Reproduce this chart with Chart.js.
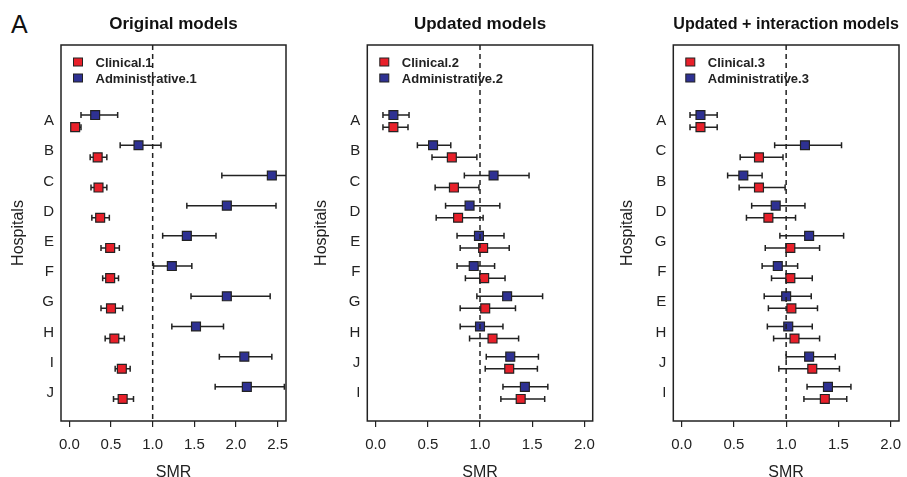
<!DOCTYPE html>
<html>
<head>
<meta charset="utf-8">
<script src="https://cdn.jsdelivr.net/npm/chart.js@4.4.1/dist/chart.umd.min.js"></script>
<style>
  body { margin: 0; background: #fff; width: 907px; height: 477px; overflow: hidden; position: relative; font-family: "Liberation Sans", Arial, sans-serif; }
  canvas { position: absolute; top: 0; }
  #tag { position: absolute; left: 11px; top: 12px; font-size: 25px; line-height: 25px; color: #111; }
</style>
</head>
<body>
<div id="tag">A</div>
<canvas id="p1" width="300" height="477" style="left:0px"></canvas>
<canvas id="p2" width="305" height="477" style="left:300px"></canvas>
<canvas id="p3" width="302" height="477" style="left:605px"></canvas>
<script>
// panel 1 - original models
var hosp1 = ["A", "B", "C", "D", "E", "F", "G", "H", "I", "J"];
var clin1 = [0.07, 0.34, 0.35, 0.37, 0.49, 0.49, 0.50, 0.54, 0.63, 0.64];
var clin1Lo = [0.03, 0.25, 0.26, 0.27, 0.38, 0.40, 0.38, 0.43, 0.55, 0.53];
var clin1Hi = [0.14, 0.45, 0.45, 0.48, 0.60, 0.59, 0.64, 0.66, 0.73, 0.77];
var adm1 = [0.31, 0.83, 2.43, 1.89, 1.41, 1.23, 1.89, 1.52, 2.10, 2.13];
var adm1Lo = [0.14, 0.61, 1.83, 1.41, 1.12, 1.01, 1.46, 1.23, 1.80, 1.75];
var adm1Hi = [0.58, 1.10, 2.75, 2.48, 1.76, 1.47, 2.41, 1.85, 2.43, 2.58];

// panel 2 - updated models
var hosp2 = ["A", "B", "C", "D", "E", "F", "G", "H", "J", "I"];
var clin2 = [0.17, 0.73, 0.75, 0.79, 1.03, 1.04, 1.05, 1.12, 1.28, 1.39];
var clin2Lo = [0.07, 0.54, 0.57, 0.58, 0.81, 0.86, 0.81, 0.90, 1.05, 1.20];
var clin2Hi = [0.31, 0.97, 0.99, 1.03, 1.28, 1.24, 1.34, 1.37, 1.55, 1.62];
var adm2 = [0.17, 0.55, 1.13, 0.90, 0.99, 0.94, 1.26, 1.00, 1.29, 1.43];
var adm2Lo = [0.07, 0.40, 0.85, 0.67, 0.78, 0.78, 0.97, 0.81, 1.06, 1.22];
var adm2Hi = [0.32, 0.72, 1.47, 1.19, 1.23, 1.14, 1.60, 1.22, 1.56, 1.65];

// panel 3 - updated + interaction models
var hosp3 = ["A", "C", "B", "D", "G", "F", "E", "H", "J", "I"];
var clin3 = [0.18, 0.74, 0.74, 0.83, 1.04, 1.04, 1.05, 1.08, 1.25, 1.37];
var clin3Lo = [0.08, 0.56, 0.55, 0.62, 0.80, 0.86, 0.83, 0.88, 0.93, 1.17];
var clin3Hi = [0.34, 0.97, 0.99, 1.09, 1.32, 1.25, 1.30, 1.32, 1.51, 1.58];
var adm3 = [0.18, 1.18, 0.59, 0.90, 1.22, 0.92, 1.00, 1.02, 1.22, 1.40];
var adm3Lo = [0.08, 0.89, 0.44, 0.67, 0.94, 0.77, 0.79, 0.82, 1.00, 1.20];
var adm3Hi = [0.34, 1.53, 0.77, 1.18, 1.55, 1.11, 1.24, 1.25, 1.47, 1.62];

var ticks1 = [0, 0.5, 1, 1.5, 2, 2.5];
var ticks2 = [0, 0.5, 1, 1.5, 2];

var RED = "#e8202a";
var BLUE = "#2e3192";
var INK = "#222";
var FONT = "'Liberation Sans', Arial, sans-serif";

// error bars, reference line, frame and legend
var forestPlugin = {
    id: "forest",
    beforeDatasetsDraw: function (chart) {
        var ctx = chart.ctx, a = chart.chartArea;
        var x = chart.scales.x, y = chart.scales.y;
        ctx.save();
        ctx.beginPath();
        ctx.rect(a.left, a.top, a.width, a.height);
        ctx.clip();
        ctx.strokeStyle = INK;
        ctx.lineWidth = 1.5;
        chart.data.datasets.forEach(function (ds) {
            ds.data.forEach(function (p, i) {
                var py = y.getPixelForValue(p.y);
                var x0 = x.getPixelForValue(ds.lo[i]);
                var x1 = x.getPixelForValue(ds.hi[i]);
                ctx.beginPath();
                ctx.moveTo(x0, py); ctx.lineTo(x1, py);
                ctx.moveTo(x0, py - 3); ctx.lineTo(x0, py + 3);
                ctx.moveTo(x1, py - 3); ctx.lineTo(x1, py + 3);
                ctx.stroke();
            });
        });
        ctx.restore();
    },
    afterDatasetsDraw: function (chart) {
        var ctx = chart.ctx, a = chart.chartArea;
        var px = chart.scales.x.getPixelForValue(1);
        ctx.save();
        ctx.strokeStyle = INK;
        ctx.lineWidth = 1.5;
        ctx.setLineDash([5, 4]);
        ctx.beginPath();
        ctx.moveTo(px, a.top); ctx.lineTo(px, a.bottom);
        ctx.stroke();
        ctx.setLineDash([]);
        ctx.lineWidth = 1.5;
        ctx.strokeRect(a.left, a.top, a.width, a.height);

        // legend
        ctx.font = "bold 13px " + FONT;
        ctx.textBaseline = "middle";
        ctx.textAlign = "left";
        chart.data.datasets.slice().reverse().forEach(function (ds, i) {
            var cy = a.top + 17 + i * 16;
            ctx.fillStyle = ds.backgroundColor;
            ctx.fillRect(a.left + 12.5, cy - 4, 9, 8);
            ctx.lineWidth = 1;
            ctx.strokeStyle = INK;
            ctx.strokeRect(a.left + 12.5, cy - 4, 9, 8);
            ctx.fillStyle = "#222";
            ctx.fillText(ds.label, a.left + 34.5, cy + 1);
        });
        ctx.restore();
    }
};

function rows(vals, shift) {
    return vals.map(function (v, i) { return { x: v, y: i + 1 + shift }; });
}

function makePanel(id, title, names, clin, clinLo, clinHi, adm, admLo, admHi, num, xTicks, xMin, xMax, yWidth, padRight, titlePad) {
    return new Chart(document.getElementById(id), {
        type: "scatter",
        data: {
            datasets: [{
                label: "Administrative." + num,
                data: rows(adm, -0.2),
                lo: admLo, hi: admHi,
                backgroundColor: BLUE
            }, {
                label: "Clinical." + num,
                data: rows(clin, 0.2),
                lo: clinLo, hi: clinHi,
                backgroundColor: RED
            }]
        },
        options: {
            responsive: false,
            animation: false,
            events: [],
            layout: { padding: { left: 0, right: padRight, top: 0, bottom: 0 } },
            elements: {
                point: { pointStyle: "rect", radius: 6.3, borderColor: INK, borderWidth: 1.2 }
            },
            plugins: {
                legend: { display: false },
                tooltip: { enabled: false },
                title: {
                    display: true,
                    text: title,
                    fullSize: false,
                    color: "#111",
                    font: { family: FONT, size: 17, weight: "bold" },
                    padding: { top: 14.3, bottom: 10.3 }
                }
            },
            scales: {
                x: {
                    type: "linear",
                    min: xMin,
                    max: xMax,
                    afterBuildTicks: function (s) { s.ticks = xTicks.map(function (v) { return { value: v }; }); },
                    afterFit: function (s) {
                        s.height = 56;
                        s.paddingLeft = 0;
                        s.paddingRight = 0;
                    },
                    ticks: {
                        autoSkip: false,
                        maxRotation: 0,
                        padding: 9,
                        color: "#222",
                        font: { family: FONT, size: 15 },
                        callback: function (v) { return v.toFixed(1); }
                    },
                    grid: { drawOnChartArea: false, drawTicks: true, tickLength: 6, color: INK, lineWidth: 1.2 },
                    border: { display: false },
                    title: {
                        display: true,
                        text: "SMR",
                        color: "#222",
                        font: { family: FONT, size: 16 },
                        padding: { top: 0, bottom: -5.4 }
                    }
                },
                y: {
                    type: "linear",
                    reverse: true,
                    min: -1.52,
                    max: 10.93,
                    afterBuildTicks: function (s) { s.ticks = names.map(function (n, i) { return { value: i + 1 }; }); },
                    afterFit: function (s) { s.width = yWidth; },
                    ticks: {
                        autoSkip: false,
                        padding: 7,
                        color: "#222",
                        font: { family: FONT, size: 15 },
                        callback: function (v) { return names[Math.round(v) - 1]; }
                    },
                    grid: { display: false, drawTicks: false },
                    border: { display: false },
                    title: {
                        display: true,
                        text: "Hospitals",
                        color: "#222",
                        font: { family: FONT, size: 16 },
                        padding: { top: titlePad, bottom: 0 }
                    }
                }
            }
        },
        plugins: [forestPlugin]
    });
}

makePanel("p1", "Original models", hosp1, clin1, clin1Lo, clin1Hi, adm1, adm1Lo, adm1Hi, 1, ticks1, -0.1, 2.6, 61, 14, 9.4);
makePanel("p2", "Updated models", hosp2, clin2, clin2Lo, clin2Hi, adm2, adm2Lo, adm2Hi, 2, ticks2, -0.08, 2.08, 67.3, 12.3, 12.1);
makePanel("p3", "Updated + interaction models", hosp3, clin3, clin3Lo, clin3Hi, adm3, adm3Lo, adm3Hi, 3, ticks2, -0.08, 2.08, 68.3, 8, 13.4);
</script>
</body>
</html>
